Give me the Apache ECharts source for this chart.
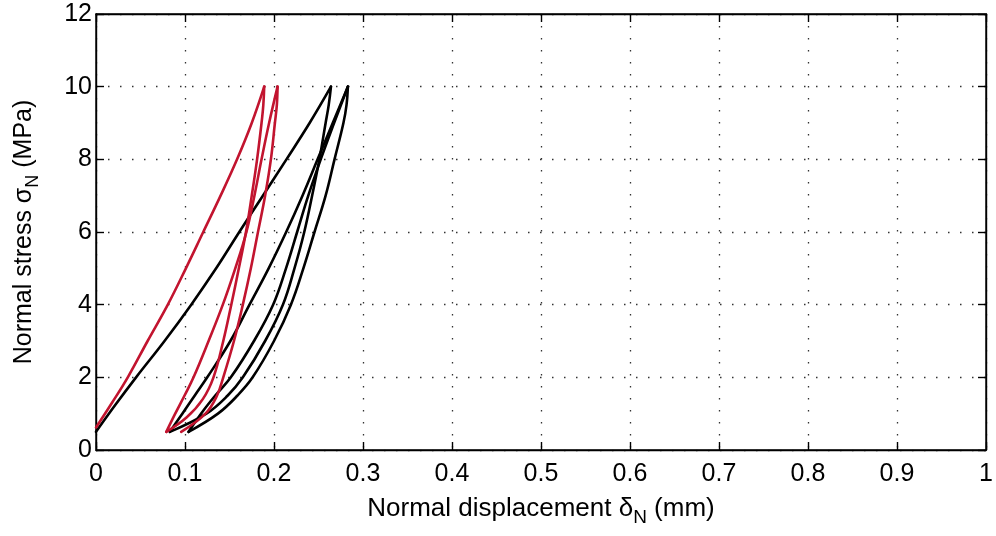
<!DOCTYPE html>
<html>
<head>
<meta charset="utf-8">
<script src="https://cdn.jsdelivr.net/npm/echarts@6/dist/echarts.min.js"></script>
<style>
html,body{margin:0;padding:0;background:#fff;}
#chart{width:996px;height:536px;}
</style>
</head>
<body>
<div id="chart"></div>
<script>
// Axis ticks
var xTicks = [0, 0.1, 0.2, 0.3, 0.4, 0.5, 0.6, 0.7, 0.8, 0.9, 1];
var yTicks = [0, 2, 4, 6, 8, 10, 12];

// Red specimen: [displacement (mm), stress (MPa)]
var redLoad1 = [[0,0.62],[0.018,1.3],[0.0357,2],[0.058,3],[0.0807,4],[0.101,5],[0.1205,6],[0.14,7],[0.1585,8],[0.175,9],[0.189,10]];
var redUnload1 = [[0.189,10],[0.188,9.5],[0.186,9],[0.181,8],[0.175,7],[0.1685,6],[0.1605,5],[0.152,4],[0.143,3],[0.132,2],[0.12,1.4],[0.102,0.9],[0.079,0.5]];
var redReload2 = [[0.079,0.5],[0.089,1],[0.0995,1.5],[0.1096,2],[0.1265,3],[0.1425,4],[0.1565,5],[0.169,6],[0.178,7],[0.186,8],[0.1945,9],[0.204,10]];
var redUnload2 = [[0.204,10],[0.2032,9.5],[0.201,9],[0.1965,8],[0.19,7],[0.182,6],[0.174,5],[0.165,4],[0.155,3],[0.143,2],[0.136,1.5],[0.123,1],[0.0957,0.5]];

// Black specimen
var blackLoad1 = [[0,0.5],[0.022,1.25],[0.045,2],[0.077,3],[0.107,4],[0.135,5],[0.161,6],[0.1875,7],[0.214,8],[0.24,9],[0.264,10]];
var blackUnload1 = [[0.264,10],[0.2615,9.5],[0.258,9],[0.251,8],[0.2445,7.2],[0.234,6],[0.223,5],[0.21,4],[0.19,3],[0.165,2],[0.148,1.5],[0.124,1],[0.083,0.5]];
var blackReload2 = [[0.083,0.5],[0.097,1],[0.111,1.5],[0.125,2],[0.151,3],[0.1725,4],[0.194,5],[0.2137,6],[0.232,7],[0.249,8],[0.266,9],[0.283,10]];
var blackUnload2 = [[0.283,10],[0.2815,9.5],[0.278,9],[0.268,8],[0.258,7],[0.2455,6],[0.233,5],[0.219,4],[0.2,3],[0.176,2],[0.159,1.5],[0.137,1],[0.104,0.5]];
var blackReload3 = [[0.104,0.5],[0.118,1],[0.134,1.5],[0.1515,2],[0.1775,3],[0.199,4],[0.2135,5],[0.226,6],[0.2385,7],[0.2525,8],[0.2675,9],[0.283,10]];

var RED = '#c2142f', BLACK = '#000000';
var FONT = 'Liberation Sans, Arial, Helvetica, sans-serif';

function branch(data, color) {
  return {
    type: 'line', data: data, smooth: 0.4, symbol: 'none',
    lineStyle: {color: color, width: 2.6, cap: 'round', join: 'round'},
    animation: false, silent: true, z: color === RED ? 3 : 2
  };
}

var series = [
  branch(blackLoad1, BLACK), branch(blackUnload1, BLACK), branch(blackReload2, BLACK),
  branch(blackUnload2, BLACK), branch(blackReload3, BLACK),
  branch(redLoad1, RED), branch(redUnload1, RED), branch(redReload2, RED), branch(redUnload2, RED)
];

var gridDash = {color: '#333', width: 1.3, type: [1.5, 10.5]};
var axisLineStyle = {color: '#000', width: 1.4};

var chart = echarts.init(document.getElementById('chart'), null, {renderer: 'canvas'});
chart.setOption({
  backgroundColor: '#fff',
  animation: false,
  grid: {left: 96, right: 10, top: 14, bottom: 86, show: true, borderColor: '#000', borderWidth: 1.4, backgroundColor: 'transparent'},
  xAxis: [{
    type: 'value', min: xTicks[0], max: xTicks[xTicks.length-1], interval: 0.1,
    axisLine: {show: true, onZero: false, lineStyle: axisLineStyle},
    axisTick: {show: true, inside: true, length: 8, lineStyle: axisLineStyle},
    axisLabel: {show: true, margin: 12, color: '#000', fontSize: 25, fontFamily: FONT},
    splitLine: {show: true, lineStyle: gridDash},
    name: 'Normal displacement δ{sub|N} (mm)',
    nameLocation: 'middle', nameGap: 40,
    nameTextStyle: {color: '#000', fontSize: 26, fontFamily: FONT,
      rich: {sub: {fontSize: 19, fontFamily: FONT, color: '#000', padding: [18, 0, 0, 0]}}}
  }, {
    type: 'value', position: 'top', min: 0, max: 1, interval: 0.1,
    axisLine: {show: true, onZero: false, lineStyle: axisLineStyle},
    axisTick: {show: true, inside: true, length: 8, lineStyle: axisLineStyle},
    axisLabel: {show: false}, splitLine: {show: false}
  }],
  yAxis: [{
    type: 'value', min: yTicks[0], max: yTicks[yTicks.length-1], interval: 2,
    axisLine: {show: true, onZero: false, lineStyle: axisLineStyle},
    axisTick: {show: true, inside: true, length: 8, lineStyle: axisLineStyle},
    axisLabel: {show: true, margin: 4, color: '#000', fontSize: 25, fontFamily: FONT},
    splitLine: {show: true, lineStyle: gridDash},
    name: 'Normal stress σ{sub|N} (MPa)',
    nameLocation: 'middle', nameGap: 54, nameRotate: 90,
    nameTextStyle: {color: '#000', fontSize: 25, fontFamily: FONT,
      rich: {sub: {fontSize: 18, fontFamily: FONT, color: '#000', padding: [18, 0, 0, 0]}}}
  }, {
    type: 'value', position: 'right', min: 0, max: 12, interval: 2,
    axisLine: {show: true, onZero: false, lineStyle: axisLineStyle},
    axisTick: {show: true, inside: true, length: 8, lineStyle: axisLineStyle},
    axisLabel: {show: false}, splitLine: {show: false}
  }],
  series: series
});
</script>
</body>
</html>
